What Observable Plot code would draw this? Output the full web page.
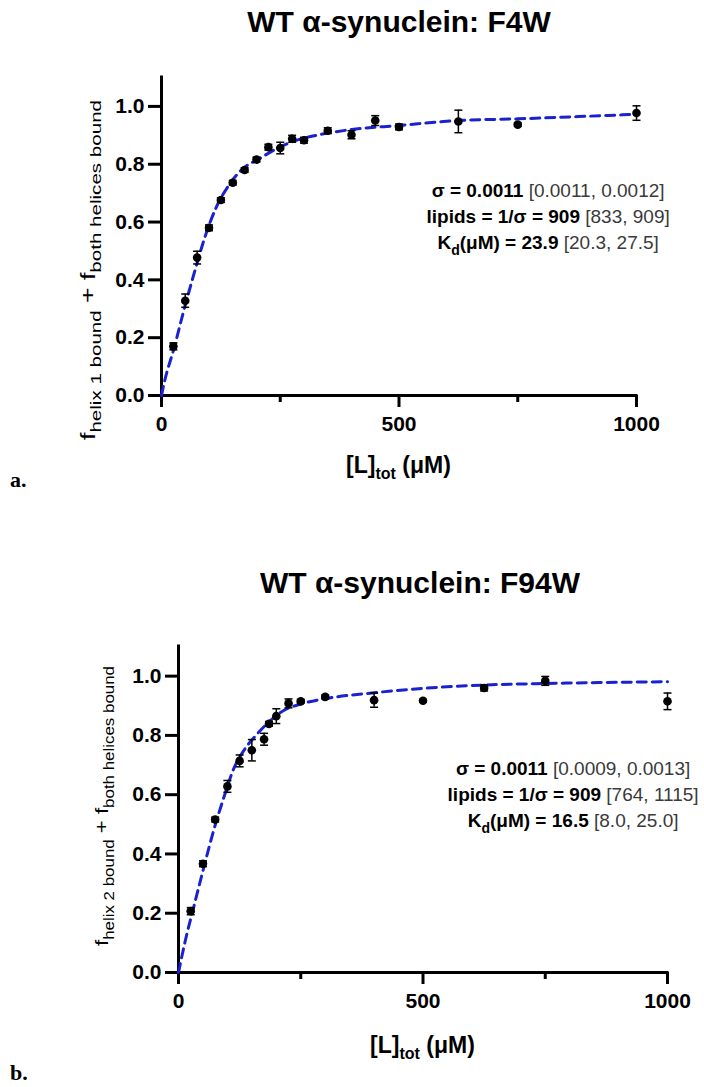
<!DOCTYPE html>
<html>
<head>
<meta charset="utf-8">
<script src="https://cdn.jsdelivr.net/npm/d3@7"></script>
<script src="https://cdn.jsdelivr.net/npm/@observablehq/plot@0.6"></script>
<style>
  html, body { margin: 0; padding: 0; background: #fff; }
  #fig { position: relative; width: 704px; height: 1087px; background: #fff; overflow: hidden; }
  .title { position: absolute; transform: translateX(-50%); white-space: nowrap; line-height: 34px;
           font: bold 30px "Liberation Sans", Arial, sans-serif; color: #000; }
  .panel { position: absolute; font: bold 22px "Liberation Serif", "Times New Roman", serif; color: #000; }
  .chart { position: absolute; left: 0; }
</style>
</head>
<body>
<div id="fig">
  <div class="title" style="left:399px; top:5px;">WT α-synuclein: F4W</div>
  <div class="title" style="left:420px; top:566px;">WT α-synuclein: F94W</div>
  <div class="panel" style="left:10px; top:467px;">a.</div>
  <div class="panel" style="left:10px; top:1060px;">b.</div>
</div>
<script>
// ---- Panel a: F4W (helix 1) ----
const f4wConc = [25, 50, 75, 100, 125, 150, 175, 200, 225, 250, 275, 300, 350, 400, 450, 500, 625, 750, 1000];
const f4wFrac = [0.170, 0.328, 0.477, 0.580, 0.676, 0.736, 0.780, 0.816, 0.859, 0.856, 0.888, 0.883, 0.916, 0.902, 0.951, 0.929, 0.948, 0.937, 0.977];
const f4wErr  = [0.012, 0.023, 0.022, 0.010, 0.008, 0.008, 0.008, 0.008, 0.010, 0.020, 0.012, 0.010, 0.010, 0.014, 0.017, 0.010, 0.039, 0.006, 0.025];
const f4wFitConc = [0, 6, 27, 45, 70, 91, 115, 143, 168, 207, 238, 277, 326, 400, 500, 625, 750, 1000];
const f4wFitFrac = [0, 0.046, 0.167, 0.282, 0.43, 0.546, 0.65, 0.73, 0.78, 0.82, 0.85, 0.879, 0.90, 0.92, 0.934, 0.951, 0.957, 0.973];
const f4wStats = [
  [{t: "σ = 0.0011", b: true}, {t: " [0.0011, 0.0012]"}],
  [{t: "lipids = 1/σ = 909", b: true}, {t: " [833, 909]"}],
  [{t: "K", b: true}, {t: "d", b: true, sub: true}, {t: "(μM) = 23.9", b: true}, {t: " [20.3, 27.5]"}]
];

// ---- Panel b: F94W (helix 2) ----
const f94wConc = [25, 50, 75, 100, 125, 150, 175, 185, 200, 225, 250, 300, 400, 500, 625, 750, 1000];
const f94wFrac = [0.207, 0.367, 0.516, 0.628, 0.714, 0.750, 0.787, 0.839, 0.865, 0.908, 0.915, 0.930, 0.919, 0.917, 0.960, 0.984, 0.915];
const f94wErr  = [0.012, 0.010, 0.008, 0.020, 0.020, 0.036, 0.020, 0.008, 0.025, 0.015, 0.006, 0.006, 0.024, 0.005, 0.010, 0.015, 0.028];
const f94wFitConc = [0, 14, 31, 52, 72, 93, 113, 134, 161, 188, 216, 250, 304, 400, 471, 625, 748, 1000];
const f94wFitFrac = [0, 0.108, 0.22, 0.356, 0.48, 0.592, 0.688, 0.75, 0.805, 0.85, 0.885, 0.906, 0.925, 0.944, 0.955, 0.97, 0.975, 0.981];
const f94wStats = [
  [{t: "σ = 0.0011", b: true}, {t: " [0.0009, 0.0013]"}],
  [{t: "lipids = 1/σ = 909", b: true}, {t: " [764, 1115]"}],
  [{t: "K", b: true}, {t: "d", b: true, sub: true}, {t: "(μM) = 16.5", b: true}, {t: " [8.0, 25.0]"}]
];

const xMajorTicks = [0, 500, 1000];
const xMinorTicks = [250, 750];
const yTicks = [0, 0.2, 0.4, 0.6, 0.8, 1.0];

const FONT = '"Liberation Sans", Arial, sans-serif';
const SVGNS = "http://www.w3.org/2000/svg";
const FIT_BLUE = "#1a22d0";

// error-bar cap drawn as a short horizontal stroke
const capSymbol = {
  draw(ctx, size) {
    const r = Math.sqrt(size / Math.PI);
    ctx.moveTo(-r, 0);
    ctx.lineTo(r, 0);
  }
};

// SVG text built from runs: bold or regular, optionally subscripted
function richText(parts, size, subSize, greyFill) {
  const t = document.createElementNS(SVGNS, "text");
  t.setAttribute("font-family", FONT);
  t.setAttribute("fill", "#000");
  let down = 0;
  for (const p of parts) {
    const ts = document.createElementNS(SVGNS, "tspan");
    ts.textContent = p.t;
    ts.setAttribute("font-weight", p.b ? "bold" : "normal");
    ts.setAttribute("font-size", p.sub ? subSize : size);
    if (!p.b && greyFill) ts.setAttribute("fill", greyFill);
    const want = p.sub ? Math.round(subSize * 0.4) : 0;
    if (want !== down) { ts.setAttribute("dy", String(want - down)); down = want; }
    t.appendChild(ts);
  }
  return t;
}

function panel({conc, frac, err, fitConc, fitFrac, stats, statsAt, yLabel, yLabelSize, yLabelLength, top, height, margins, yTitleX, yTitleY, xTitleY}) {
  const points = conc.map((c, i) => ({x: c, y: frac[i], lo: frac[i] - err[i], hi: frac[i] + err[i]}));
  const fit = fitConc.map((c, i) => ({x: c, y: fitFrac[i]}));

  // fit statistics and the two axis titles (they carry subscripts)
  const annotations = (index, scales) => {
    const g = document.createElementNS(SVGNS, "g");
    const cx = scales.x(statsAt[0]);
    const y0 = scales.y(statsAt[1]);
    stats.forEach((line, i) => {
      const t = richText(line, 19, 14, "#3a3a3a");
      t.setAttribute("x", cx);
      t.setAttribute("y", y0 + i * 26);
      t.setAttribute("text-anchor", "middle");
      g.appendChild(t);
    });
    const yt = richText(yLabel, yLabelSize[0], yLabelSize[1], null);
    yt.setAttribute("text-anchor", "middle");
    yt.setAttribute("textLength", yLabelLength);
    yt.setAttribute("lengthAdjust", "spacingAndGlyphs");
    yt.setAttribute("transform", `translate(${yTitleX},${yTitleY}) rotate(-90)`);
    g.appendChild(yt);
    const xt = richText([{t: "[L]", b: true}, {t: "tot", b: true, sub: true}, {t: " (μM)", b: true}], 23, 16, null);
    xt.setAttribute("text-anchor", "middle");
    xt.setAttribute("x", (scales.x(0) + scales.x(1000)) / 2);
    xt.setAttribute("y", xTitleY);
    g.appendChild(xt);
    return g;
  };

  const svg = Plot.plot({
    width: 704,
    height,
    marginLeft: margins[0], marginRight: margins[1], marginTop: margins[2], marginBottom: margins[3],
    x: {domain: [0, 1000]},
    y: {domain: [0, 1.1]},
    style: {fontFamily: FONT, background: "transparent", overflow: "visible", color: "#000"},
    marks: [
      Plot.axisY({ticks: yTicks, tickFormat: d3.format(".1f"), tickSize: 13, tickPadding: 4,
                  strokeWidth: 3, fontSize: 21, fontWeight: "bold", label: null}),
      Plot.axisX({ticks: xMajorTicks, tickFormat: d3.format("d"), tickSize: 12, tickPadding: 9,
                  strokeWidth: 3, fontSize: 21, fontWeight: "bold", label: null}),
      Plot.axisX({ticks: xMinorTicks, tickFormat: () => "", tickSize: 7, strokeWidth: 3, label: null}),
      Plot.ruleY([0], {x1: 0, x2: 1000, strokeWidth: 3, strokeLinecap: "square"}),
      Plot.ruleX([0], {y1: 0, y2: 1.1, strokeWidth: 3, strokeLinecap: "square"}),
      Plot.line(fit, {x: "x", y: "y", stroke: FIT_BLUE, strokeWidth: 3, strokeDasharray: "9,6", curve: "monotone-x"}),
      Plot.ruleX(points, {x: "x", y1: "lo", y2: "hi", strokeWidth: 1.5}),
      Plot.dot(points, {x: "x", y: "hi", symbol: capSymbol, r: 4, stroke: "#000", strokeWidth: 1.5}),
      Plot.dot(points, {x: "x", y: "lo", symbol: capSymbol, r: 4, stroke: "#000", strokeWidth: 1.5}),
      Plot.dot(points, {x: "x", y: "y", r: 4.3, fill: "#000", stroke: "none"}),
      annotations
    ]
  });
  svg.classList.add("chart");
  svg.style.top = top + "px";
  document.getElementById("fig").appendChild(svg);
}

panel({
  conc: f4wConc, frac: f4wFrac, err: f4wErr, fitConc: f4wFitConc, fitFrac: f4wFitFrac,
  stats: f4wStats, statsAt: [815, 0.684],
  yLabel: [{t: "f"}, {t: "helix 1 bound", sub: true}, {t: " + f"}, {t: "both helices bound", sub: true}],
  yLabelSize: [20, 15.5], yLabelLength: 340,
  top: 40, height: 450, margins: [161, 68, 37, 95],
  yTitleX: 95, yTitleY: 230, xTitleY: 433
});

panel({
  conc: f94wConc, frac: f94wFrac, err: f94wErr, fitConc: f94wFitConc, fitFrac: f94wFitFrac,
  stats: f94wStats, statsAt: [808, 0.665],
  yLabel: [{t: "f"}, {t: "helix 2 bound", sub: true}, {t: " + f"}, {t: "both helices bound", sub: true}],
  yLabelSize: [19, 14.5], yLabelLength: 280,
  top: 610, height: 470, margins: [178, 37, 36, 108],
  yTitleX: 108, yTitleY: 196, xTitleY: 443
});
</script>
</body>
</html>
